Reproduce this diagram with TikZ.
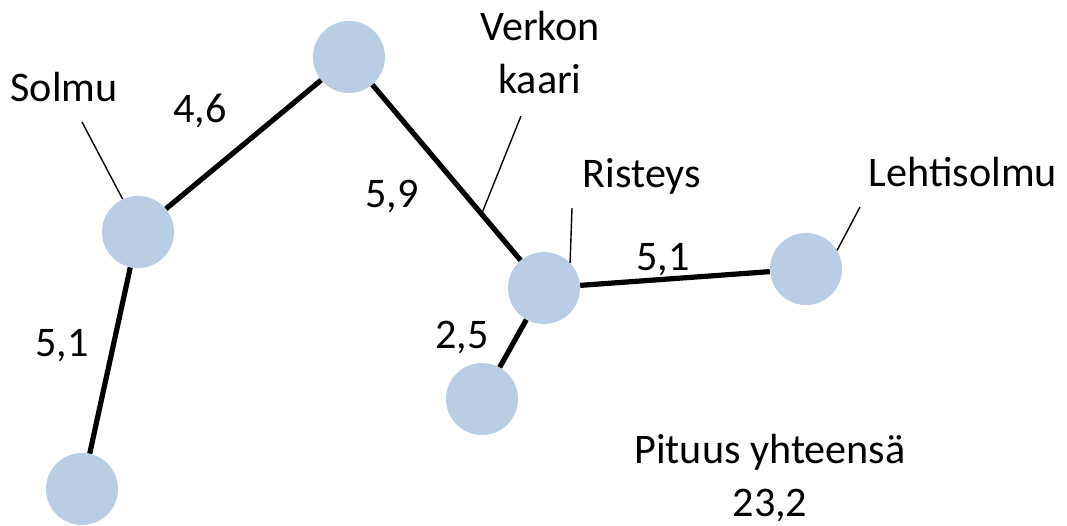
\documentclass[tikz,border=0pt]{standalone}
\usepackage{fontspec}
\setmainfont{Carlito}
\usepackage{tikz}
\usetikzlibrary{calc}

\definecolor{solmusin}{RGB}{185,205,229}

\begin{document}
\begin{tikzpicture}[x=0.25mm,y=-0.25mm,
        solmu/.style={circle,fill=solmusin,inner sep=0pt,minimum size=18mm},
        kaari/.style={line width=1.3mm},
        viite/.style={line width=0.35mm},
        nimi/.style={anchor=base,inner sep=0pt,font=\fontsize{30}{37.5}\selectfont}]
        \useasboundingbox (0,0) rectangle (1067,526);

        % solmut
        \node[solmu] (a) at (82,489) {};
        \node[solmu] (b) at (138,232) {};
        \node[solmu] (c) at (349,57) {};
        \node[solmu] (d) at (544,288) {};
        \node[solmu] (e) at (482,399) {};
        \node[solmu] (f) at (806,269) {};

        % kaaret
        \draw[kaari] (a) -- (b);
        \draw[kaari] (b) -- (c);
        \draw[kaari] (c) -- (d);
        \draw[kaari] (d) -- (e);
        \draw[kaari] (d) -- (f);

        % pituudet
        \node[nimi] (p1) at (62,356) {5,1};
        \node[nimi] (p2) at (200,122) {4,6};
        \node[nimi] (p3) at (392,207) {5,9};
        \node[nimi] (p4) at (663,270) {5,1};
        \node[nimi] (p5) at (462,348) {2,5};

        % selitteet (monirivisillä base = viimeinen rivi)
        \node[nimi] (t1) at (64,101) {Solmu};
        \node[nimi,align=center] (t2) at (540,93) {Verkon\\kaari};
        \node[nimi] (t3) at (642,187) {Risteys};
        \node[nimi] (t4) at (963,186) {Lehtisolmu};
        \node[nimi,align=center] (t5) at (770,516) {Pituus yhteensä\\23,2};

        \coordinate (v1) at (82,122);
        \coordinate (v2) at (521,116);
        \coordinate (v3) at (572,208);
        \coordinate (v4) at (860,207);
        \coordinate (k) at ($(c)!0.68!(d)$);
        \draw[viite] (v1) -- (b.115);
        \draw[viite] (v2) -- (k);
        \draw[viite] (v3) -- (d.44);
        \draw[viite] (v4) -- (f.31);
\end{tikzpicture}
\end{document}
